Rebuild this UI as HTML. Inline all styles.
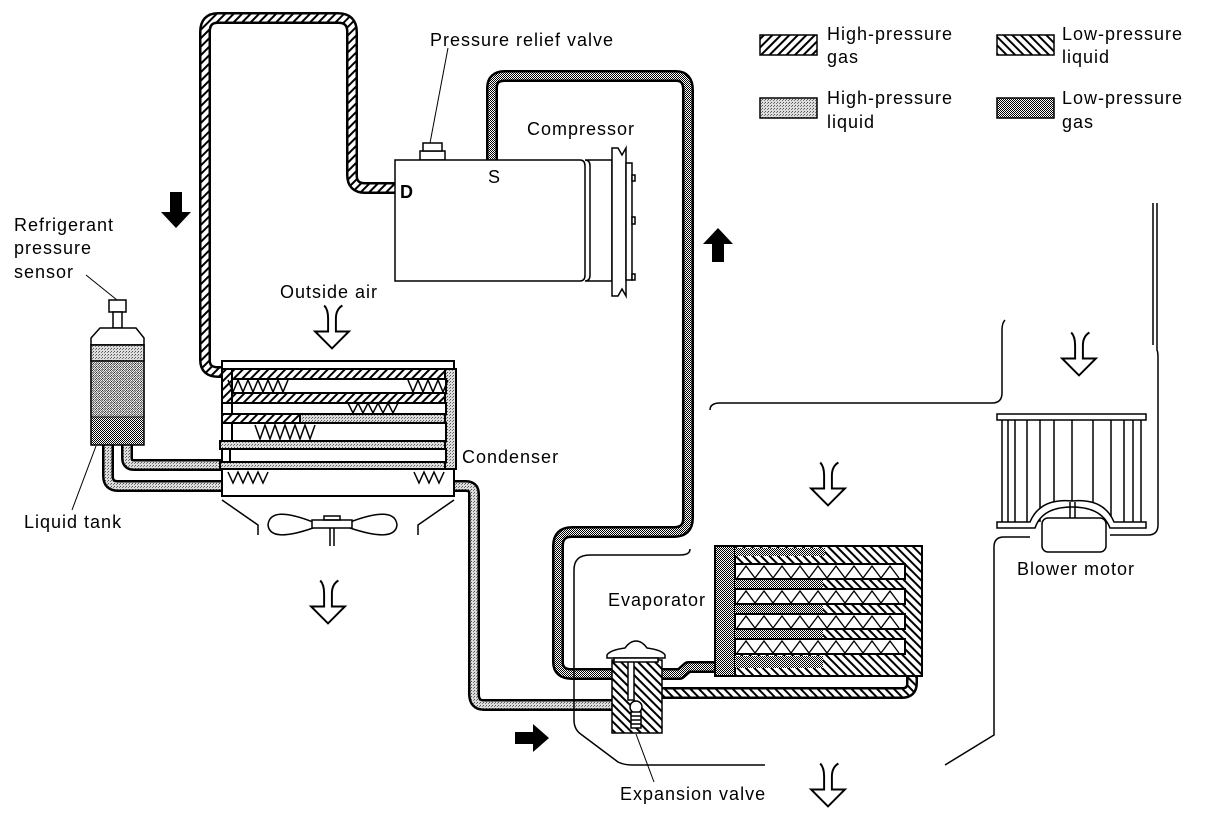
<!DOCTYPE html>
<html><head><meta charset="utf-8"><style>
html,body{margin:0;padding:0;background:#fff}
svg{display:block}
text{font-family:"Liberation Sans",sans-serif;font-size:18px;letter-spacing:1px;fill:#000}
</style></head><body>
<svg width="1216" height="822" viewBox="0 0 1216 822" xmlns="http://www.w3.org/2000/svg">
<defs>
<pattern id="hg" width="6" height="6" patternUnits="userSpaceOnUse" patternTransform="rotate(45)"><rect width="6" height="6" fill="#fff"/><rect width="2" height="6" fill="#000"/></pattern>
<pattern id="ll" width="6" height="6" patternUnits="userSpaceOnUse" patternTransform="rotate(-45)"><rect width="6" height="6" fill="#fff"/><rect width="2" height="6" fill="#000"/></pattern>
<pattern id="hl" width="3" height="3" patternUnits="userSpaceOnUse"><rect width="3" height="3" fill="#ddd"/><rect width="1" height="1" fill="#555"/><rect x="2" y="1" width="1" height="1" fill="#777"/></pattern>
<pattern id="lg" width="2" height="2" patternUnits="userSpaceOnUse"><rect width="2" height="2" fill="#fff"/><rect width="1" height="1" fill="#000"/><rect x="1" y="1" width="1" height="1" fill="#000"/></pattern>
</defs>
<g fill="none" stroke-linejoin="round" stroke-linecap="butt">
<path d="M395,188 H365 Q352,188 352,175 V32 Q352,18 338,18 H218 Q205,18 205,32 V360 Q205,372 218,372 H225" stroke="#000" stroke-width="12"/>
<path d="M395,188 H365 Q352,188 352,175 V32 Q352,18 338,18 H218 Q205,18 205,32 V360 Q205,372 218,372 H225" stroke="url(#hg)" stroke-width="7"/>
<path d="M492,160 V88 Q492,76 505,76 H676 Q688,76 688,90 V518 Q688,532 674,532 H572 Q558,532 558,546 V662 Q558,674 572,674 H612" stroke="#000" stroke-width="12"/>
<path d="M492,160 V88 Q492,76 505,76 H676 Q688,76 688,90 V518 Q688,532 674,532 H572 Q558,532 558,546 V662 Q558,674 572,674 H612" stroke="url(#lg)" stroke-width="7"/>
<path d="M662,674 H680 L688,667 H716" stroke="#000" stroke-width="12"/>
<path d="M662,674 H680 L688,667 H716" stroke="url(#lg)" stroke-width="7"/>
<path d="M127,445 V458 Q127,465 134,465 H224" stroke="#000" stroke-width="12"/>
<path d="M127,445 V458 Q127,465 134,465 H224" stroke="url(#hl)" stroke-width="7"/>
<path d="M108,445 V476 Q108,486 118,486 H466 Q474,486 474,494 V694 Q474,705 484,705 H612" stroke="#000" stroke-width="12"/>
<path d="M108,445 V476 Q108,486 118,486 H466 Q474,486 474,494 V694 Q474,705 484,705 H612" stroke="url(#hl)" stroke-width="7"/>
<path d="M662,693 H902 Q912,693 912,683 V674" stroke="#000" stroke-width="12"/>
<path d="M662,693 H902 Q912,693 912,683 V674" stroke="url(#ll)" stroke-width="7"/>
</g>
<g stroke="#000" stroke-width="1.5" fill="#fff">
<rect x="420" y="151" width="25" height="9"/><rect x="423" y="143" width="19" height="8"/>
<path d="M395,160 H580 Q585,160 585,166 V275 Q585,281 580,281 H395 Z"/>
<path d="M585,160 H612 V281 H585 Q590,281 590,275 V166 Q590,160 585,160Z"/>
<path d="M612,148 L618,148 L622,155 L626,148 V296 L622,289 L618,296 H612 Z"/>
<rect x="626" y="163" width="6" height="117"/>
<rect x="632" y="175" width="3" height="6"/><rect x="632" y="217" width="3" height="7"/><rect x="632" y="274" width="3" height="6"/>
</g>
<line x1="430" y1="143" x2="448" y2="48" stroke="#000" stroke-width="1"/>
<g stroke="#000" stroke-width="2">
<rect x="222" y="361" width="232" height="135" fill="#fff"/>
<rect x="222" y="369" width="234" height="10" fill="url(#hg)"/>
<rect x="222" y="393" width="234" height="10" fill="url(#hg)"/>
<rect x="222" y="414" width="234" height="9" fill="url(#hg)"/>
<rect x="300" y="414" width="156" height="9" fill="url(#hl)"/>
<rect x="220" y="441" width="236" height="8" fill="url(#hl)"/>
<rect x="220" y="462" width="236" height="7" fill="url(#hl)"/>
<rect x="445" y="369" width="11" height="100" fill="url(#hl)"/>
<rect x="222" y="369" width="10" height="34" fill="url(#hg)"/>
<rect x="232" y="379" width="214" height="14" fill="#fff"/>
<rect x="232" y="403" width="214" height="11" fill="#fff"/>
<rect x="232" y="423" width="214" height="18" fill="#fff"/>
<rect x="230" y="449" width="216" height="13" fill="#fff"/>
</g>
<g stroke="#000" stroke-width="1.5" fill="none">
<path d="M228,380 l5,12 5,-12 5,12 5,-12 5,12 5,-12 5,12 5,-12 5,12 5,-12 5,12 5,-12"/>
<path d="M408,380 l5,12 5,-12 5,12 5,-12 5,12 5,-12 5,12 5,-12"/>
<path d="M348,403 l5,10 5,-10 5,10 5,-10 5,10 5,-10 5,10 5,-10 5,10 5,-10"/>
<path d="M255,425 l5,14 5,-14 5,14 5,-14 5,14 5,-14 5,14 5,-14 5,14 5,-14 5,14 5,-14"/>
<path d="M228,472 l5,11 5,-11 5,11 5,-11 5,11 5,-11 5,11 5,-11"/>
<path d="M414,472 l5,11 5,-11 5,11 5,-11 5,11 5,-11"/>
<path d="M222,500 L258,525 V535 M454,500 L418,525 V535"/>
<path d="M313,522 Q270,505 268,525 Q270,543 313,528 M350,522 Q395,505 397,525 Q395,543 350,528"/>
<rect x="312" y="520" width="40" height="8" fill="#fff"/><rect x="324" y="516" width="16" height="4"/>
<path d="M330,528 V546 M334,528 V546"/>
</g>
<g stroke="#000" stroke-width="1.5">
<rect x="109" y="300" width="17" height="12" fill="#fff"/>
<rect x="113" y="312" width="9" height="16" fill="#fff"/>
<path d="M100,328 H136 L144,338 V345 H91 V338 Z" fill="#fff"/>
<rect x="91" y="345" width="53" height="100" fill="url(#lg)"/>
<rect x="91" y="345" width="53" height="16" fill="url(#hl)"/>
<rect x="91" y="361" width="53" height="56" fill="url(#hl)" opacity="0.5"/>
</g>
<line x1="96" y1="446" x2="72" y2="510" stroke="#000" stroke-width="1"/>
<line x1="117" y1="300" x2="86" y2="275" stroke="#000" stroke-width="1"/>
<g stroke="#000" stroke-width="2">
<rect x="715" y="546" width="207" height="130" fill="url(#ll)"/>
<rect x="715" y="546" width="20" height="130" fill="url(#lg)"/>
<rect x="735" y="564" width="170" height="15" fill="#fff"/>
<rect x="735" y="589" width="170" height="15" fill="#fff"/>
<rect x="735" y="614" width="170" height="15" fill="#fff"/>
<rect x="735" y="639" width="170" height="15" fill="#fff"/>
<rect x="735" y="580" width="88" height="8" fill="url(#lg)" stroke="none"/>
<rect x="735" y="605" width="88" height="8" fill="url(#lg)" stroke="none"/>
<rect x="735" y="630" width="88" height="8" fill="url(#lg)" stroke="none"/>
<rect x="735" y="656" width="88" height="12" fill="url(#lg)" stroke="none"/>
<rect x="735" y="548" width="90" height="8" fill="url(#lg)" stroke="none"/>
</g>
<g stroke="#000" stroke-width="1.3" fill="none">
<path d="M737,578 l9,-12 9,12 9,-12 9,12 9,-12 9,12 9,-12 9,12 9,-12 9,12 9,-12 9,12 9,-12 9,12 9,-12 9,12 9,-12 9,12"/>
<path d="M737,603 l9,-12 9,12 9,-12 9,12 9,-12 9,12 9,-12 9,12 9,-12 9,12 9,-12 9,12 9,-12 9,12 9,-12 9,12 9,-12 9,12"/>
<path d="M737,628 l9,-12 9,12 9,-12 9,12 9,-12 9,12 9,-12 9,12 9,-12 9,12 9,-12 9,12 9,-12 9,12 9,-12 9,12 9,-12 9,12"/>
<path d="M737,653 l9,-12 9,12 9,-12 9,12 9,-12 9,12 9,-12 9,12 9,-12 9,12 9,-12 9,12 9,-12 9,12 9,-12 9,12 9,-12 9,12"/>
</g>
<g stroke="#000" stroke-width="1.5">
<rect x="612" y="660" width="50" height="73" fill="url(#ll)"/>
<rect x="628" y="660" width="6" height="40" fill="#fff"/>
<circle cx="636" cy="707" r="6" fill="#fff"/>
<rect x="631" y="712" width="10" height="16" fill="#fff"/>
<path d="M631,716 H641 M631,720 H641 M631,724 H641" fill="none"/>
<path d="M607,655 Q610,650 625,648 Q630,641 636,641 Q642,641 647,648 Q662,650 665,655 V658 H607 Z" fill="#fff"/>
<rect x="614" y="658" width="44" height="4" fill="#fff"/>
</g>
<line x1="636" y1="734" x2="654" y2="782" stroke="#000" stroke-width="1"/>
<g stroke="#000" stroke-width="1.5" fill="none">
<path d="M690,549 Q690,555 680,555 H590 Q574,555 574,570 V720 Q574,730 582,735 L618,762 Q624,765 632,765 H765"/>
<path d="M1005,320 Q1002,323 1002,330 V393 Q1002,403 992,403 H720 Q710,403 710,410"/>
<path d="M1153,203 V345 M1157,203 V350 Q1158,352 1158,358 V525 Q1158,535 1148,535 H1110"/>
<path d="M1030,537 H1004 Q994,537 994,547 V735 L945,765"/>
</g>
<g stroke="#000" stroke-width="1.5" fill="#fff">
<rect x="997" y="414" width="149" height="6"/>
<path d="M1002,420 V522 M1008,420 V522 M1015,420 V522 M1027,420 V522 M1040,420 V522 M1054,420 V510 M1072,420 V502 M1093,420 V510 M1111,420 V522 M1124,420 V522 M1133,420 V522 M1141,420 V522" fill="none"/>
<path d="M997,522 H1030 Q1040,498 1072,501 Q1104,498 1114,522 H1146 V528 H1114 L1110,528 Q1102,507 1072,507 Q1042,507 1035,528 H997 Z"/>
<path d="M1070,502 V518 M1075,502 V518" fill="none"/>
<rect x="1042" y="518" width="64" height="34" rx="6"/>
</g>
<g fill="#000">
<path d="M170,192 H182 V212 H191 L176,228 L161,212 H170 Z"/>
<path d="M712,262 H724 V244 H733 L718,228 L703,244 H712 Z"/>
<path d="M515,732 H533 V724 L549,738 L533,752 V744 H515 Z"/>
</g>
<g stroke="#000" stroke-width="1.5" fill="none">
<g transform="translate(332,325) scale(1.3)"><path d="M-6,-15 Q-3,-12 -3,-5 V5 H-13 L0,18 L13,5 H3 V-5 Q3,-12 8,-15"/></g>
<g transform="translate(328,600) scale(1.3)"><path d="M-6,-15 Q-3,-12 -3,-5 V5 H-13 L0,18 L13,5 H3 V-5 Q3,-12 8,-15"/></g>
<g transform="translate(828,482) scale(1.3)"><path d="M-6,-15 Q-3,-12 -3,-5 V5 H-13 L0,18 L13,5 H3 V-5 Q3,-12 8,-15"/></g>
<g transform="translate(1079,352) scale(1.3)"><path d="M-6,-15 Q-3,-12 -3,-5 V5 H-13 L0,18 L13,5 H3 V-5 Q3,-12 8,-15"/></g>
<g transform="translate(828,783) scale(1.3)"><path d="M-6,-15 Q-3,-12 -3,-5 V5 H-13 L0,18 L13,5 H3 V-5 Q3,-12 8,-15"/></g>
</g>
<g stroke="#000" stroke-width="1.5">
<rect x="760" y="35" width="57" height="20" fill="url(#hg)"/>
<rect x="997" y="35" width="57" height="20" fill="url(#ll)"/>
<rect x="760" y="98" width="57" height="20" fill="url(#hl)"/>
<rect x="997" y="98" width="57" height="20" fill="url(#lg)"/>
</g>
<text x="827" y="40">High-pressure</text><text x="827" y="63">gas</text>
<text x="1062" y="40">Low-pressure</text><text x="1062" y="63">liquid</text>
<text x="827" y="104">High-pressure</text><text x="827" y="128">liquid</text>
<text x="1062" y="104">Low-pressure</text><text x="1062" y="128">gas</text>
<text x="430" y="46">Pressure relief valve</text>
<text x="527" y="135">Compressor</text>
<text x="400" y="198" font-weight="bold">D</text>
<text x="488" y="183">S</text>
<text x="14" y="231">Refrigerant</text>
<text x="14" y="254">pressure</text>
<text x="14" y="278">sensor</text>
<text x="280" y="298">Outside air</text>
<text x="462" y="463">Condenser</text>
<text x="24" y="528">Liquid tank</text>
<text x="608" y="606">Evaporator</text>
<text x="620" y="800">Expansion valve</text>
<text x="1017" y="575">Blower motor</text>
</svg>
</body></html>
